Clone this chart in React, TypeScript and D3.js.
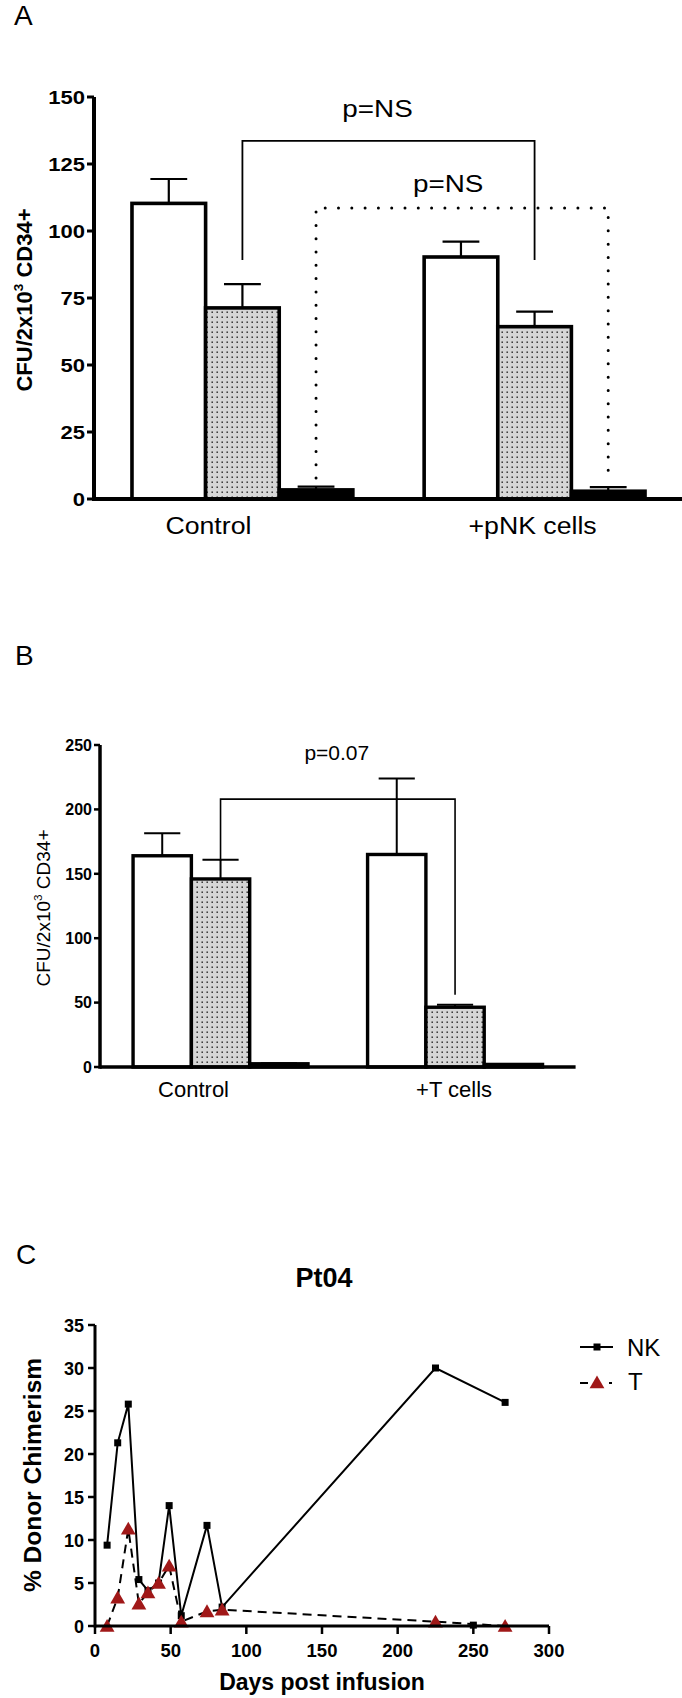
import * as d3 from "d3";

const W = 682;
const H = 1698;
const FONT = "'Liberation Sans', Arial, Helvetica, sans-serif";
const RED = "#a01818";

// bar kinds, same in panels A and B
const kinds = ["open", "dotted", "filled"];

// panel A
const groupsA = ["Control", "+pNK cells"];
const meanA = [[110.3, 71.3, 3.4], [90.3, 64.3, 2.9]];
const errA = [[9.1, 8.9, 1.2], [5.7, 5.6, 1.5]];
const ticksA = [0, 25, 50, 75, 100, 125, 150];

// panel B
const groupsB = ["Control", "+T cells"];
const meanB = [[164, 146, 2.5], [165, 46.4, 2]];
const errB = [[17.5, 15, 0.5], [59, 2, 0.3]];
const ticksB = [0, 50, 100, 150, 200, 250];

// panel C
const daysNK = [8, 15, 22, 29, 35, 42, 49, 57, 74, 84, 225, 271];
const valsNK = [9.4, 21.3, 25.8, 5.4, 4.1, 5.0, 14.0, 1.2, 11.7, 2.2, 30.0, 26.0];
const daysT = [8, 15, 22, 29, 35, 42, 49, 57, 74, 84, 225, 271];
const valsT = [0, 3.3, 11.3, 2.6, 3.9, 5.0, 7.0, 0.5, 1.7, 1.9, 0.5, 0];
const strayDays = [250];
const strayVals = [0.1];
const ticksCx = [0, 50, 100, 150, 200, 250, 300];
const ticksCy = [0, 5, 10, 15, 20, 25, 30, 35];

function Txt({ x, y, size, weight = "normal", anchor = "start", sx = 1, rot = 0, children }: any) {
  let tr = `translate(${x},${y})`;
  if (rot) tr += ` rotate(${rot})`;
  if (sx !== 1) tr += ` scale(${sx},1)`;
  return (
    <text transform={tr} fontSize={size} fontWeight={weight} textAnchor={anchor} fontFamily={FONT} fill="#000">
      {children}
    </text>
  );
}

function CfuLabel({ x, y, size, weight }: any) {
  return (
    <Txt x={x} y={y} size={size} weight={weight} anchor="middle" rot={-90}>
      <tspan>CFU/2x10</tspan>
      <tspan dy={-size * 0.42} fontSize={size * 0.62}>3</tspan>
      <tspan dy={size * 0.42}>{"  CD34+"}</tspan>
    </Txt>
  );
}

function BarPanel({ cfg }: any) {
  const x0 = d3.scaleBand().domain(cfg.groups).range(cfg.xRange).paddingInner(cfg.padIn).paddingOuter(cfg.padOut);
  const x1 = d3.scaleBand().domain(kinds).range([0, x0.bandwidth()]);
  const y = d3.scaleLinear().domain(cfg.yDomain).range(cfg.yRange);
  const bw = x1.bandwidth();
  const cx = (g: string, k: string) => (x0(g) ?? 0) + (x1(k) ?? 0) + bw / 2;
  const fills = ["#fff", "url(#dots)", "#000"];
  const axX = cfg.xRange[0];

  const errBars = cfg.groups.map((g: string, gi: number) =>
    kinds.map((k, ki) => {
      const m = cfg.mean[gi][ki];
      const e = cfg.err[gi][ki];
      const c = cx(g, k);
      const capW = bw * cfg.capFrac;
      return (
        <g key={g + k} stroke="#000" strokeWidth={cfg.errW}>
          <line x1={c} x2={c} y1={y(m)} y2={y(m + e)} />
          <line x1={c - capW / 2} x2={c + capW / 2} y1={y(m + e)} y2={y(m + e)} />
        </g>
      );
    })
  );

  const bars = cfg.groups.map((g: string, gi: number) =>
    kinds.map((k, ki) => {
      const m = cfg.mean[gi][ki];
      return (
        <rect
          key={g + k}
          x={(x0(g) ?? 0) + (x1(k) ?? 0)}
          y={y(m)}
          width={bw}
          height={y(0) - y(m)}
          fill={fills[ki]}
          stroke="#000"
          strokeWidth={cfg.barW}
        />
      );
    })
  );

  const brackets = cfg.brackets.map((b: any, i: number) => {
    const xa = cx(b.from[0], b.from[1]);
    const xb = cx(b.to[0], b.to[1]);
    const yt = y(b.top);
    const path = `M${xa},${y(b.legs[0])}V${yt}H${xb}V${y(b.legs[1])}`;
    return (
      <g key={i}>
        <path
          d={path}
          fill="none"
          stroke="#000"
          strokeWidth={b.dotted ? 3 : cfg.brW}
          strokeDasharray={b.dotted ? "0 13.3" : undefined}
          strokeLinecap={b.dotted ? "round" : "butt"}
        />
        <Txt x={(xa + xb) / 2 + b.dx} y={yt + b.dy} size={cfg.pSize} anchor="middle" sx={cfg.sx}>
          {b.label}
        </Txt>
      </g>
    );
  });

  return (
    <g>
      {errBars}
      {bars}
      {brackets}
      <line x1={axX} x2={axX} y1={y(cfg.yDomain[1])} y2={y(0) + cfg.axW / 2} stroke="#000" strokeWidth={cfg.axW} />
      <line x1={axX} x2={cfg.xRange[1]} y1={y(0)} y2={y(0)} stroke="#000" strokeWidth={cfg.axW} />
      {cfg.ticks.map((t: number) => (
        <g key={t}>
          <line x1={axX - cfg.tickLen} x2={axX} y1={y(t)} y2={y(t)} stroke="#000" strokeWidth={cfg.tickW} />
          <Txt x={axX - cfg.tickLen - 2} y={y(t) + cfg.tickSize * 0.36} size={cfg.tickSize} weight="bold" anchor="end" sx={cfg.sx}>
            {t}
          </Txt>
        </g>
      ))}
      {cfg.groups.map((g: string, gi: number) => (
        <Txt
          key={g}
          x={(x0(g) ?? 0) + x0.bandwidth() / 2 + cfg.labelDx[gi]}
          y={cfg.labelY}
          size={cfg.labelSize}
          anchor="middle"
          sx={cfg.sx}
        >
          {g}
        </Txt>
      ))}
      <CfuLabel x={cfg.yTitleX} y={(y(0) + y(cfg.yDomain[1])) / 2 + cfg.yTitleDy} size={cfg.yTitleSize} weight={cfg.yTitleWeight} />
    </g>
  );
}

const cfgA = {
  groups: groupsA, mean: meanA, err: errA, ticks: ticksA,
  xRange: [94, 683], padIn: 0.244, padOut: 0.13,
  yDomain: [0, 150], yRange: [499, 97],
  barW: 3.6, errW: 2.2, capFrac: 0.5, axW: 4, tickLen: 7, tickW: 3, brW: 1.8,
  tickSize: 19, labelSize: 23, labelY: 534, labelDx: [-34, -2], pSize: 24, sx: 1.16,
  yTitleX: 32, yTitleDy: 2, yTitleSize: 22, yTitleWeight: "bold",
  brackets: [
    { from: ["Control", "dotted"], to: ["+pNK cells", "dotted"], top: 133.6, legs: [89.2, 89.2], label: "p=NS", dotted: false, dx: -11, dy: -24 },
    { from: ["Control", "filled"], to: ["+pNK cells", "filled"], top: 108.6, legs: [7.8, 7.8], label: "p=NS", dotted: true, dx: -14, dy: -16 },
  ],
};

const cfgB = {
  groups: groupsB, mean: meanB, err: errB, ticks: ticksB,
  xRange: [100, 575.6], padIn: 0.254, padOut: 0.141,
  yDomain: [0, 250], yRange: [1067, 745],
  barW: 3.4, errW: 2, capFrac: 0.62, axW: 3.5, tickLen: 6, tickW: 2.5, brW: 1.6,
  tickSize: 16, labelSize: 22, labelY: 1097, labelDx: [-27, -1], pSize: 21, sx: 1,
  yTitleX: 50, yTitleDy: 2, yTitleSize: 19, yTitleWeight: "normal",
  brackets: [
    { from: ["Control", "dotted"], to: ["+T cells", "dotted"], top: 208, legs: [160, 56], label: "p=0.07", dotted: false, dx: -1, dy: -39 },
  ],
};

function LinePanel() {
  const x = d3.scaleLinear().domain([0, 300]).range([95, 549]);
  const y = d3.scaleLinear().domain([0, 35]).range([1626, 1325]);
  const nk = daysNK.map((d, i) => [d, valsNK[i]] as [number, number]);
  const tc = daysT.map((d, i) => [d, valsT[i]] as [number, number]);
  const line = d3.line<[number, number]>().x((d) => x(d[0])).y((d) => y(d[1]));
  const tri = d3.symbol().type(d3.symbolTriangle).size(95);
  const sq = 7;

  return (
    <g>
      <Txt x={324} y={1287} size={27} weight="bold" anchor="middle">Pt04</Txt>
      <path d={line(tc) ?? ""} fill="none" stroke="#000" strokeWidth={2} strokeDasharray="9 6" />
      <path d={line(nk) ?? ""} fill="none" stroke="#000" strokeWidth={2} />
      {nk.map((d, i) => (
        <rect key={i} x={x(d[0]) - sq / 2} y={y(d[1]) - sq / 2} width={sq} height={sq} fill="#000" />
      ))}
      {strayDays.map((d, i) => (
        <rect key={i} x={x(d) - sq / 2} y={y(strayVals[i]) - sq / 2} width={sq} height={sq} fill="#000" />
      ))}
      {tc.map((d, i) => (
        <path key={i} d={tri() ?? ""} transform={`translate(${x(d[0])},${y(d[1]) + 1.5})`} fill={RED} />
      ))}
      <line x1={95} x2={95} y1={y(35)} y2={y(0) + 1.5} stroke="#000" strokeWidth={3} />
      <line x1={95} x2={549} y1={y(0)} y2={y(0)} stroke="#000" strokeWidth={3} />
      {ticksCy.map((t) => (
        <g key={t}>
          <line x1={88} x2={95} y1={y(t)} y2={y(t)} stroke="#000" strokeWidth={2.5} />
          <Txt x={84} y={y(t) + 6.5} size={18} weight="bold" anchor="end">{t}</Txt>
        </g>
      ))}
      {ticksCx.map((t) => (
        <g key={t}>
          <line x1={x(t)} x2={x(t)} y1={y(0)} y2={y(0) + 8} stroke="#000" strokeWidth={2.5} />
          <Txt x={x(t)} y={1657} size={18.5} weight="bold" anchor="middle">{t}</Txt>
        </g>
      ))}
      <Txt x={322} y={1690} size={23} weight="bold" anchor="middle">Days post infusion</Txt>
      <Txt x={41} y={1475} size={24.5} weight="bold" anchor="middle" rot={-90}>% Donor Chimerism</Txt>
      {/* legend */}
      <line x1={580} x2={613} y1={1347} y2={1347} stroke="#000" strokeWidth={2} />
      <rect x={597 - sq / 2} y={1347 - sq / 2} width={sq} height={sq} fill="#000" />
      <Txt x={627} y={1356} size={24}>NK</Txt>
      <line x1={580} x2={613} y1={1383} y2={1383} stroke="#000" strokeWidth={2} strokeDasharray="8 21 3 10" />
      <path d={tri() ?? ""} transform={`translate(597,1384)`} fill={RED} />
      <Txt x={628} y={1390} size={24}>T</Txt>
    </g>
  );
}

export default function App() {
  return (
    <div style={{ position: "absolute", left: 0, top: 0 }}>
      <svg width={W} height={H} style={{ display: "block", background: "#fff" }}>
        <defs>
          <pattern id="dots" width={5} height={5} patternUnits="userSpaceOnUse">
            <rect width={5} height={5} fill="#d6d6d6" />
            <rect x={1.5} y={1.5} width={1.4} height={1.4} fill="#1a1a1a" />
          </pattern>
        </defs>
        <rect width={W} height={H} fill="#fff" />
        <Txt x={14} y={25} size={28}>A</Txt>
        <Txt x={15} y={665} size={28}>B</Txt>
        <Txt x={16} y={1264} size={28}>C</Txt>
        <BarPanel cfg={cfgA} />
        <BarPanel cfg={cfgB} />
        <LinePanel />
      </svg>
    </div>
  );
}
